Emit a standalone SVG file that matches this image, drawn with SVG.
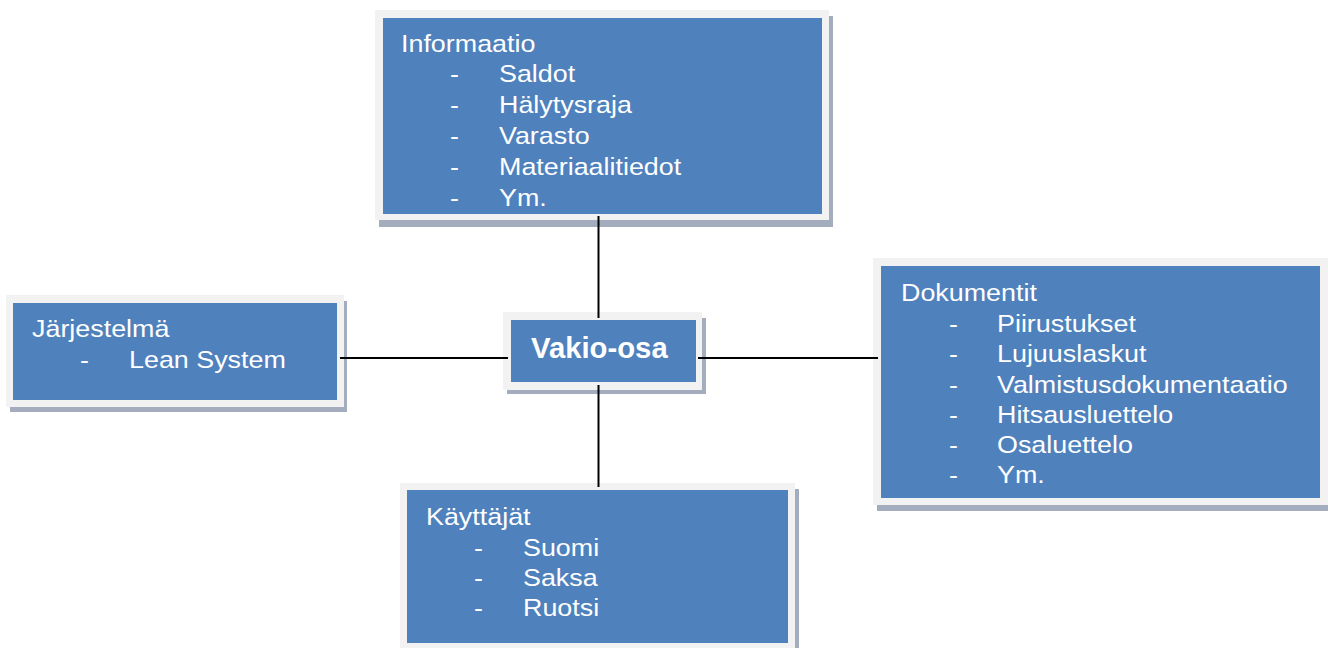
<svg xmlns="http://www.w3.org/2000/svg" width="1328" height="648" viewBox="0 0 1328 648">
<style>
.sh{fill:#a4adbd}
.fr{fill:#f2f2f2}
.bx{fill:#4f81bd}
.t{font-family:"Liberation Sans",Arial,sans-serif;font-size:24px;fill:#ffffff}
.b{font-family:"Liberation Sans",Arial,sans-serif;font-size:29px;font-weight:bold;fill:#ffffff}
.c{stroke:#000;stroke-width:2;fill:none}
</style>
<rect width="1328" height="648" fill="#ffffff"/>
<g id="informaatio">
<rect class="sh" x="379" y="16" width="454" height="211"/>
<rect class="fr" x="375" y="10" width="454" height="210"/>
<rect class="bx" x="383" y="18" width="439" height="196"/>
<text class="t" transform="translate(401,52) scale(1.12,1)">Informaatio</text>
<text class="t" transform="translate(450,82) scale(1.12,1)">-</text>
<text class="t" transform="translate(499,82) scale(1.12,1)">Saldot</text>
<text class="t" transform="translate(450,113) scale(1.12,1)">-</text>
<text class="t" transform="translate(499,113) scale(1.12,1)">Hälytysraja</text>
<text class="t" transform="translate(450,144) scale(1.12,1)">-</text>
<text class="t" transform="translate(499,144) scale(1.12,1)">Varasto</text>
<text class="t" transform="translate(450,175) scale(1.12,1)">-</text>
<text class="t" transform="translate(499,175) scale(1.12,1)">Materiaalitiedot</text>
<text class="t" transform="translate(450,206) scale(1.12,1)">-</text>
<text class="t" transform="translate(499,206) scale(1.12,1)">Ym.</text>
</g>
<g id="jarjestelma">
<rect class="sh" x="10" y="301" width="337" height="111"/>
<rect class="fr" x="6" y="295" width="338" height="112"/>
<rect class="bx" x="13" y="303" width="324" height="97"/>
<text class="t" transform="translate(32,337) scale(1.12,1)">Järjestelmä</text>
<text class="t" transform="translate(80,368) scale(1.12,1)">-</text>
<text class="t" transform="translate(129,368) scale(1.12,1)">Lean System</text>
</g>
<g id="vakio-osa">
<rect class="sh" x="507" y="318" width="199" height="76"/>
<rect class="fr" x="503" y="312" width="199" height="78"/>
<rect class="bx" x="511" y="320" width="185" height="62"/>
<text class="b" transform="translate(531,358) scale(1.01,1)">Vakio-osa</text>
</g>
<g id="dokumentit">
<rect class="sh" x="877" y="264" width="451" height="247"/>
<rect class="fr" x="873" y="258" width="455" height="247"/>
<rect class="bx" x="881" y="266" width="439" height="232"/>
<text class="t" transform="translate(901,301) scale(1.12,1)">Dokumentit</text>
<text class="t" transform="translate(949,332) scale(1.12,1)">-</text>
<text class="t" transform="translate(997,332) scale(1.12,1)">Piirustukset</text>
<text class="t" transform="translate(949,362) scale(1.12,1)">-</text>
<text class="t" transform="translate(997,362) scale(1.12,1)">Lujuuslaskut</text>
<text class="t" transform="translate(949,393) scale(1.12,1)">-</text>
<text class="t" transform="translate(997,393) scale(1.12,1)">Valmistusdokumentaatio</text>
<text class="t" transform="translate(949,423) scale(1.12,1)">-</text>
<text class="t" transform="translate(997,423) scale(1.12,1)">Hitsausluettelo</text>
<text class="t" transform="translate(949,453) scale(1.12,1)">-</text>
<text class="t" transform="translate(997,453) scale(1.12,1)">Osaluettelo</text>
<text class="t" transform="translate(949,483) scale(1.12,1)">-</text>
<text class="t" transform="translate(997,483) scale(1.12,1)">Ym.</text>
</g>
<g id="kayttajat">
<rect class="sh" x="404" y="489" width="395" height="165"/>
<rect class="fr" x="400" y="483" width="395" height="170"/>
<rect class="bx" x="407" y="490" width="381" height="153"/>
<text class="t" transform="translate(426,525) scale(1.12,1)">Käyttäjät</text>
<text class="t" transform="translate(474,556) scale(1.12,1)">-</text>
<text class="t" transform="translate(523,556) scale(1.12,1)">Suomi</text>
<text class="t" transform="translate(474,586) scale(1.12,1)">-</text>
<text class="t" transform="translate(523,586) scale(1.12,1)">Saksa</text>
<text class="t" transform="translate(474,616) scale(1.12,1)">-</text>
<text class="t" transform="translate(523,616) scale(1.12,1)">Ruotsi</text>
</g>
<g id="connectors">
<line class="c" x1="598.5" y1="216" x2="598.5" y2="318"/>
<line class="c" x1="598.5" y1="385" x2="598.5" y2="487"/>
<line class="c" x1="340" y1="358" x2="508" y2="358"/>
<line class="c" x1="698" y1="358" x2="878" y2="358"/>
</g>
</svg>
